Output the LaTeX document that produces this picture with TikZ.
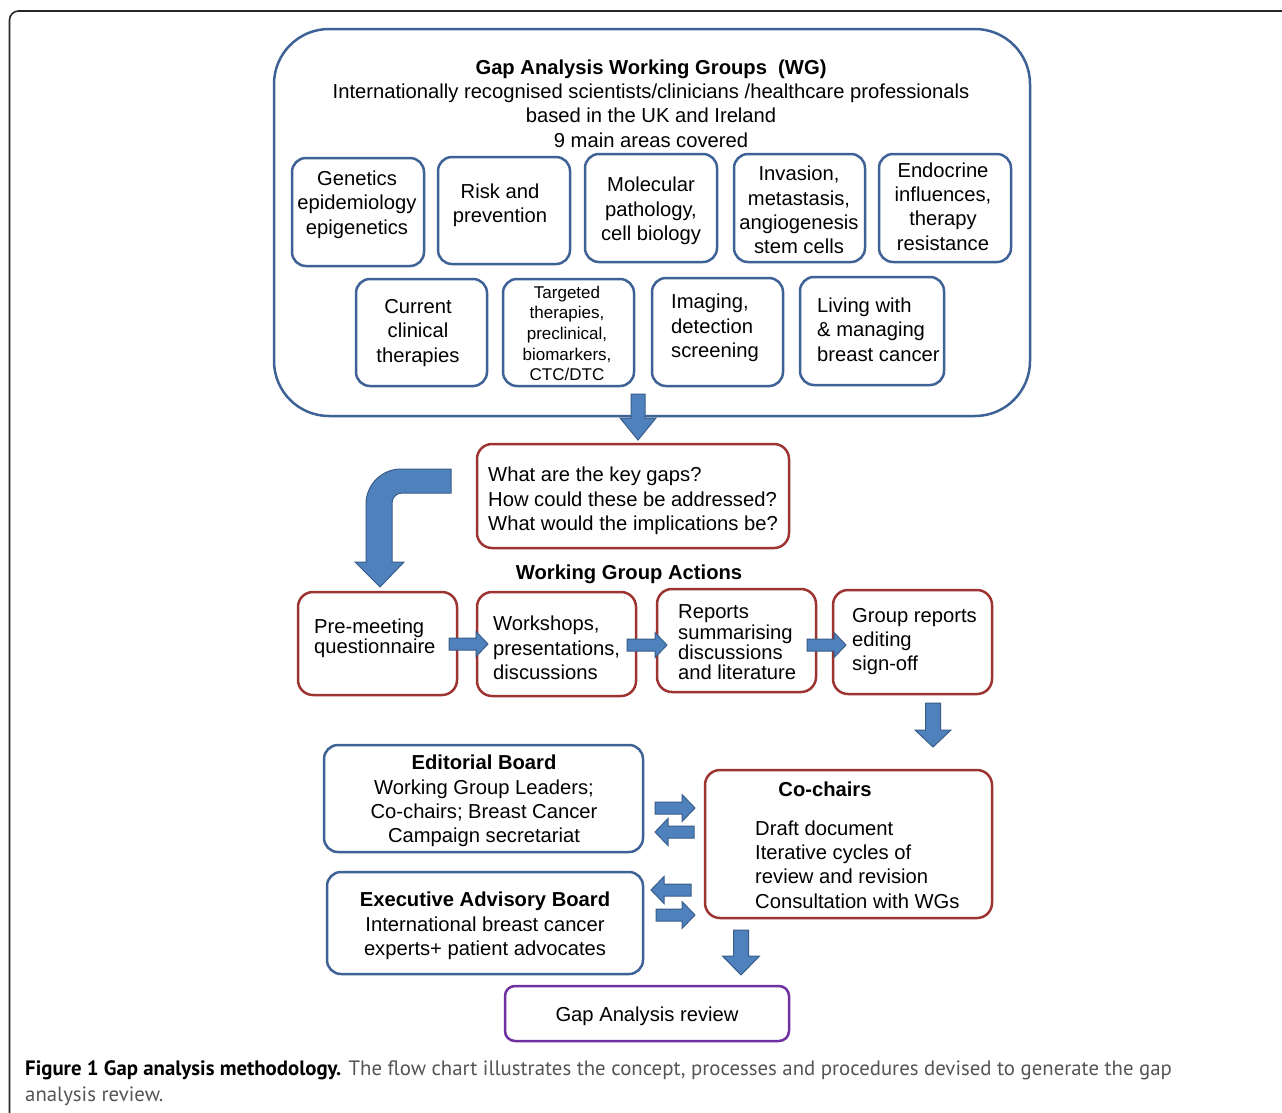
\documentclass[tikz,border=0pt]{standalone}
\usepackage{fontspec}
\setmainfont{Liberation Sans}
\newfontfamily\capfont{PT Sans}
\usetikzlibrary{calc}
\definecolor{wgblue}{RGB}{62,98,150}
\definecolor{qred}{RGB}{158,52,50}
\definecolor{revpurple}{RGB}{112,48,160}
\definecolor{afill}{RGB}{79,129,189}
\definecolor{aline}{RGB}{56,93,138}
\definecolor{capgray}{RGB}{85,85,85}
\tikzset{
  bluebox/.style={draw=wgblue, line width=2.5pt, rounded corners=14pt, inner sep=0pt},
  redbox/.style={draw=qred, line width=2.5pt, rounded corners=15pt, inner sep=0pt},
  purplebox/.style={draw=revpurple, line width=2.5pt, rounded corners=10pt, inner sep=0pt},
  bigbox/.style={draw=wgblue, line width=2.5pt, rounded corners=55pt, inner sep=0pt},
  txt/.style={inner sep=0pt, yshift=-2pt, font=\fontsize{20.2}{24.3}\selectfont},
  tighttxt/.style={inner sep=0pt, yshift=-2pt, font=\fontsize{20.2}{20.3}\selectfont},
  smalltxt/.style={inner sep=0pt, yshift=-1pt, font=\fontsize{17}{20.7}\selectfont},
  barrow/.style={fill=afill, draw=aline, line width=1pt, line join=miter},
  frameline/.style={draw=black!85, line width=1.6pt, rounded corners=9pt},
  captxt/.style={inner sep=0pt, anchor=base west, font=\capfont\fontsize{20.8}{24}\selectfont}
}
% box node: style, name, x1, y1, x2, y2
\newcommand{\bnode}[6]{\node[#1, minimum width={#5-#3}, minimum height={#6-#4}] (#2) at ({(#3+#5)/2},{(#4+#6)/2}) {};}
% right block arrow: x tail, x tip, y, shaft half, head half, head length
\newcommand{\rarr}[6]{\draw[barrow] (#1,#3-#4) -- (#2-#6,#3-#4) -- (#2-#6,#3-#5) -- (#2,#3) -- (#2-#6,#3+#5) -- (#2-#6,#3+#4) -- (#1,#3+#4) -- cycle;}
% left block arrow: x tail, x tip, y, shaft half, head half, head length
\newcommand{\larr}[6]{\draw[barrow] (#1,#3-#4) -- (#2+#6,#3-#4) -- (#2+#6,#3-#5) -- (#2,#3) -- (#2+#6,#3+#5) -- (#2+#6,#3+#4) -- (#1,#3+#4) -- cycle;}
% down block arrow: x, y tail, y tip, shaft half, head half, head length
\newcommand{\darr}[6]{\draw[barrow] (#1-#4,#2) -- (#1-#4,#3-#6) -- (#1-#5,#3-#6) -- (#1,#3) -- (#1+#5,#3-#6) -- (#1+#4,#3-#6) -- (#1+#4,#2) -- cycle;}
\begin{document}
\begin{tikzpicture}[x=1pt, y=-1pt]
\useasboundingbox (0,0) rectangle (1282,1112);
\fill[white] (0,0) rectangle (1282,1112);
% outer frame
\draw[frameline] (9.5,1125) -- (9.5,11) -- (1295,11);

% big WG box
\bnode{bigbox}{wg}{274}{29}{1030}{416}
\node[txt, align=center] (wg-t) at (651,101.5) {\textbf{Gap Analysis Working Groups\ \ (WG)}\\Internationally recognised scientists/clinicians /healthcare professionals\\based in the UK and Ireland\\9 main areas covered};

% row 1
\bnode{bluebox}{gen}{292}{158}{424}{266}
\node[txt, align=center] (gen-t) at (357,202.5) {Genetics\\epidemiology\\epigenetics};
\bnode{bluebox}{risk}{438}{157}{570}{264}
\node[txt, align=center] (risk-t) at (500,203) {Risk and\\prevention};
\bnode{bluebox}{mol}{585}{154}{717}{262}
\node[txt, align=center] (mol-t) at (651,209) {Molecular\\pathology,\\cell biology};
\bnode{bluebox}{inv}{734}{154}{865}{262}
\node[txt, align=center] (inv-t) at (799,208) {Invasion,\\metastasis,\\angiogenesis\\stem cells};
\bnode{bluebox}{endo}{879}{154}{1011}{262}
\node[txt, align=center] (endo-t) at (943,204.5) {Endocrine\\influences,\\therapy\\resistance};

% row 2
\bnode{bluebox}{cur}{356}{279}{487}{386}
\node[txt, align=center] (cur-t) at (418,331) {Current\\clinical\\therapies};
\bnode{bluebox}{tgt}{503}{279}{634}{386}
\node[smalltxt, align=center] (tgt-t) at (567,332.5) {Targeted\\therapies,\\preclinical,\\biomarkers,\\CTC/DTC};
\bnode{bluebox}{img}{652}{278}{783}{386}
\node[txt, align=left, anchor=west] (img-t) at (671,326) {Imaging,\\detection\\screening};
\bnode{bluebox}{liv}{800}{277}{944}{385}
\node[txt, align=left, anchor=west] (liv-t) at (817,327.5) {Living with\\\& managing\\breast cancer};

% questions
\bnode{redbox}{q}{477}{444}{789}{548}
\node[txt, align=left, anchor=west] (q-t) at (488,499) {What are the key gaps?\\How could these be addressed?\\What would the implications be?};

% arrow WG -> questions
\darr{638}{394}{440}{7}{18}{22}

% bent arrow
\draw[barrow] (451,469) -- (401,469) .. controls (381.7,469) and (366,484.7) .. (366,504) -- (366,562) -- (355,562) -- (380,587) -- (404,562) -- (392,562) -- (392,503) .. controls (392,497.5) and (396.5,493) .. (402,493) -- (451,493) -- cycle;

\node[txt] (wga) at (629,572) {\textbf{Working Group Actions}};

% actions row
\bnode{redbox}{pm}{298}{592}{457}{695}
\node[tighttxt, align=left, anchor=west] (pm-t) at (314,636) {Pre-meeting\\questionnaire};
\bnode{redbox}{ws}{477}{592}{636}{696}
\node[txt, align=left, anchor=west] (ws-t) at (493,646) {Workshops,\\presentations,\\discussions};
\bnode{redbox}{rep}{657}{589}{816}{692}
\node[tighttxt, align=left, anchor=west] (rep-t) at (678,640.5) {Reports\\summarising\\discussions\\and literature};
\bnode{redbox}{grp}{833}{590}{992}{694}
\node[txt, align=left, anchor=west] (grp-t) at (852,639.5) {Group reports\\editing\\sign-off};

\rarr{449}{488}{644}{6}{12.5}{12}
\rarr{627}{667}{645}{6}{12.5}{12}
\rarr{807}{846}{645}{6}{12.5}{12}

\darr{933}{703}{747}{7.5}{18}{17}

% boards
\bnode{bluebox}{ed}{324}{745}{643}{852}
\node[txt, align=center] (ed-t) at (484,799) {\textbf{Editorial Board}\\Working Group Leaders;\\Co-chairs; Breast Cancer\\Campaign secretariat};
\bnode{bluebox}{ex}{327}{872}{643}{974}
\node[txt, align=center] (ex-t) at (485,924) {\textbf{Executive Advisory Board}\\International breast cancer\\experts+ patient advocates};

\bnode{redbox}{co}{705}{770}{992}{918}
\node[txt] (co-h) at (825,787) {\textbf{Co-chairs}};
\node[txt, align=left, anchor=west] (co-t) at (755,862.5) {Draft document\\Iterative cycles of\\review and revision\\Consultation with WGs};

\rarr{655}{695}{808}{6}{13.5}{13}
\larr{694}{655}{832}{6}{13.5}{13}
\larr{691}{651}{890}{6}{13.5}{13}
\rarr{656}{695}{915}{6}{13.5}{13}

\darr{741}{930}{975}{7.5}{18.5}{19}

\bnode{purplebox}{rev}{505}{986}{789}{1041}
\node[txt] (rev-t) at (647,1014) {Gap Analysis review};

% caption
\node[captxt] (cap1) at (25,1075) {\textbf{Figure 1 Gap analysis methodology.} \textcolor{capgray}{The flow chart illustrates the concept, processes and procedures devised to generate the gap}};
\node[captxt] (cap2) at (25,1101) {\textcolor{capgray}{analysis review.}};
\end{tikzpicture}
\end{document}
